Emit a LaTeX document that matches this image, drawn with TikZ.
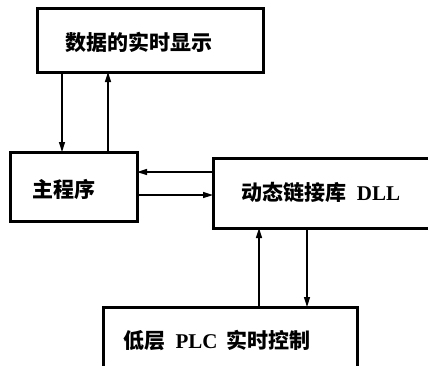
\documentclass[tikz,border=0pt]{standalone}
\usepackage{fontspec}
\setmainfont{Liberation Serif}
\newfontfamily\cjk{Noto Sans CJK SC}
\usetikzlibrary{arrows.meta}
\begin{document}
\begin{tikzpicture}[x=1pt,y=-1pt,
  boxnode/.style={draw,rectangle,line width=3pt,inner sep=0pt,outer sep=0pt},
  txt/.style={inner sep=0pt,font=\fontsize{21}{24}\selectfont\bfseries},
  conn/.style={line width=1.5pt,-{Triangle[length=10pt,width=6pt]}}]
\useasboundingbox (0,0) rectangle (428,365);
\clip (0,0) rectangle (428,365);
\fill[white] (0,0) rectangle (428,365);
% boxes
\node[boxnode,minimum width=226pt,minimum height=64pt] (disp) at (150,40) {};
\node[boxnode,minimum width=127pt,minimum height=69pt] (main) at (73.5,186.5) {};
\node[boxnode,minimum width=227pt,minimum height=70pt] (dll) at (326.5,193) {};
\node[boxnode,minimum width=254pt,minimum height=80pt] (plc) at (230,347) {};
% texts
\node[txt] (tdisp) at (139,42) {\cjk 数据的实时显示};
\node[txt] (tmain) at (64,189) {\cjk 主程序};
\node[txt] (tdll) at (321,192) {\cjk 动态链接库\hspace{10pt}\normalfont\bfseries DLL};
\node[txt] (tplc) at (217,340) {\cjk 低层\hspace{10pt}\normalfont\bfseries PLC\hspace{9pt}\cjk 实时控制};
% helper coordinates
\coordinate (xa) at (62,0);
\coordinate (xb) at (108,0);
\coordinate (ya) at (0,172);
\coordinate (yb) at (0,195);
\coordinate (xc) at (259,0);
\coordinate (xd) at (307,0);
% connectors
\draw[conn] (disp.south -| xa) -- (main.north -| xa);
\draw[conn] (main.north -| xb) -- (disp.south -| xb);
\draw[conn] (dll.west |- ya) -- (main.east |- ya);
\draw[conn] (main.east |- yb) -- (dll.west |- yb);
\draw[conn] (plc.north -| xc) -- (dll.south -| xc);
\draw[conn] (dll.south -| xd) -- (plc.north -| xd);
\end{tikzpicture}
\end{document}
